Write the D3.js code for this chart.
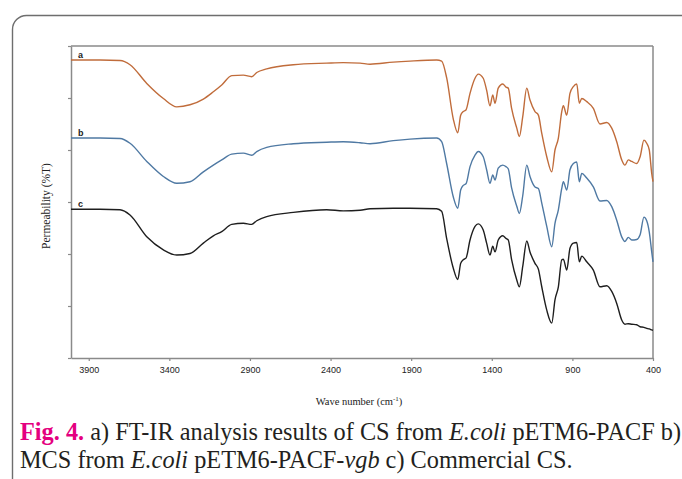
<!DOCTYPE html>
<html>
<head>
<meta charset="utf-8">
<script src="https://cdn.jsdelivr.net/npm/d3@7"></script>
<style>
  html, body { margin: 0; padding: 0; background: #fff; }
  svg { display: block; }
</style>
</head>
<body>
<svg id="chart" width="682" height="479"></svg>
<script>
// ---- data ----
const wavenumbers = [4010,3830,3706,3644,3540,3437,3354,3272,3189,3127,
  3075,3013,2941,2889,2858,2796,2631,2424,2321,2217,
  2155,2011,1907,1742,1711,1680,1639,
  1611,1593,1577,1560,1535,1504,1484,1453,1432,1411,
  1394,1380,1360,1332,1312,1298,1277,1245,1229,1208,
  1183,1163,1132,1111,1090,1059,1028,1008,987,966,
  956,935,915,894,873,857,842,811,770,729,
  687,656,625,594,574,553,532,501,480,456,
  439,423,408,400];

const seriesA = [5.73,5.73,5.72,5.64,5.28,4.99,4.83,4.87,4.98,5.12,
  5.25,5.43,5.44,5.41,5.49,5.56,5.64,5.67,5.68,5.67,
  5.65,5.69,5.71,5.73,5.71,5.39,4.60,
  4.33,4.67,4.74,4.77,5.09,5.38,5.46,5.38,5.15,4.85,
  5.06,4.90,5.19,5.27,5.21,5.19,4.80,4.42,4.26,4.64,
  5.19,4.96,4.74,4.67,4.32,3.87,3.58,4.00,4.23,4.74,
  4.85,4.67,5.09,5.22,5.27,4.90,4.99,4.93,4.80,4.50,
  4.53,4.42,4.16,3.81,3.71,3.81,3.78,3.74,3.87,4.19,
  4.13,4.00,3.55,3.39];

const seriesB = [4.23,4.23,4.22,4.13,3.78,3.49,3.36,3.39,3.58,3.71,
  3.81,3.92,3.94,3.90,3.97,4.05,4.12,4.15,4.16,4.14,
  4.12,4.18,4.21,4.23,4.16,3.74,3.10,
  2.88,3.23,3.32,3.35,3.68,3.90,3.97,3.87,3.62,3.36,
  3.52,3.42,3.65,3.71,3.68,3.64,3.27,2.92,2.78,3.12,
  3.71,3.49,3.29,3.26,2.98,2.53,2.14,2.59,2.85,3.26,
  3.39,3.23,3.62,3.74,3.77,3.39,3.55,3.46,3.29,3.02,
  3.03,2.91,2.65,2.33,2.24,2.32,2.27,2.28,2.37,2.71,
  2.64,2.42,2.04,1.85];

const seriesC = [2.86,2.86,2.85,2.75,2.33,2.08,1.98,2.01,2.21,2.35,
  2.43,2.57,2.59,2.57,2.64,2.72,2.80,2.85,2.83,2.84,
  2.87,2.88,2.88,2.87,2.82,2.30,1.73,
  1.51,1.82,1.89,1.92,2.27,2.53,2.58,2.46,2.21,1.98,
  2.15,2.04,2.27,2.35,2.30,2.27,1.89,1.50,1.37,1.76,
  2.25,2.04,1.82,1.71,1.37,0.92,0.67,1.12,1.37,1.89,
  1.90,1.69,2.11,2.21,2.22,1.85,1.96,1.85,1.69,1.37,
  1.39,1.28,1.05,0.73,0.65,0.66,0.65,0.64,0.60,0.59,
  0.57,0.56,0.54,0.53];

const seriesNames = ["a", "b", "c"];
const seriesColors = ["#c06c3b", "#4f79a3", "#1e1e1e"];
const xTickValues = [3900, 3400, 2900, 2400, 1900, 1400, 900, 400];
const yTickValues = [0, 1, 2, 3, 4, 5, 6];
const xTitle = "Wave number (cm";
const yTitle = "Permeability (%T)";

// ---- layout ----
const svg = d3.select("#chart");
const plot = { left: 71, right: 653, top: 46, bottom: 358 };

const x = d3.scaleLinear().domain([4010, 400]).range([plot.left, plot.right]);
const y = d3.scaleLinear().domain([0, 6]).range([plot.bottom, plot.top]);

// outer rounded border of the figure box
svg.append("rect")
  .attr("x", 12.5).attr("y", 15.5)
  .attr("width", 720).attr("height", 477)
  .attr("rx", 14).attr("ry", 14)
  .attr("fill", "none").attr("stroke", "#6e6e6e").attr("stroke-width", 1.4);

// frame (top and right lines)
const frameColor = "#8a8a8a";
svg.append("line").attr("x1", plot.left).attr("x2", plot.right)
  .attr("y1", plot.top).attr("y2", plot.top)
  .attr("stroke", frameColor).attr("stroke-width", 1.5);
svg.append("line").attr("x1", plot.right).attr("x2", plot.right)
  .attr("y1", plot.top).attr("y2", plot.bottom)
  .attr("stroke", frameColor).attr("stroke-width", 1.5);

// bottom axis
const gx = svg.append("g")
  .attr("transform", `translate(0,${plot.bottom})`)
  .call(d3.axisBottom(x).tickValues(xTickValues).tickFormat(d3.format("d"))
    .tickSize(3).tickSizeOuter(0).tickPadding(6));
gx.select(".domain").attr("stroke", frameColor).attr("stroke-width", 1.5);
gx.selectAll(".tick line").attr("stroke", frameColor).attr("stroke-width", 1.2);
gx.selectAll(".tick text")
  .attr("font-family", "Liberation Sans, Arial, sans-serif")
  .attr("font-size", 9).attr("fill", "#222");

// left axis (ticks only, no labels)
const gy = svg.append("g")
  .attr("transform", `translate(${plot.left},0)`)
  .call(d3.axisLeft(y).tickValues(yTickValues).tickFormat("")
    .tickSize(3).tickSizeOuter(0));
gy.select(".domain").attr("stroke", frameColor).attr("stroke-width", 1.5);
gy.selectAll(".tick line").attr("stroke", frameColor).attr("stroke-width", 1.2);

// axis titles
const xt = svg.append("text")
  .attr("x", (plot.left + plot.right) / 2 - 3).attr("y", 405)
  .attr("text-anchor", "middle")
  .attr("font-family", "Liberation Serif, Times New Roman, serif")
  .attr("font-size", 10.5).attr("fill", "#222");
xt.append("tspan").text(xTitle);
xt.append("tspan").attr("dy", -4).attr("font-size", 7).text("-1");
xt.append("tspan").attr("dy", 4).text(")");

svg.append("text")
  .attr("transform", `translate(50,${(plot.top + plot.bottom) / 2 + 4}) rotate(-90)`)
  .attr("text-anchor", "middle")
  .attr("font-family", "Liberation Serif, Times New Roman, serif")
  .attr("font-size", 11.5).attr("fill", "#222")
  .text(yTitle);

// spectra
const allSeries = [seriesA, seriesB, seriesC];
const line = d3.line()
  .x((d, i) => x(wavenumbers[i]))
  .y(d => y(d))
  .curve(d3.curveMonotoneX);

allSeries.forEach((vals, k) => {
  svg.append("path")
    .datum(vals)
    .attr("d", line)
    .attr("fill", "none")
    .attr("stroke", seriesColors[k])
    .attr("stroke-width", 1.4)
    .attr("stroke-linejoin", "round");
  svg.append("text")
    .attr("x", 78)
    .attr("y", y(vals[0]) - 2)
    .attr("font-family", "Liberation Sans, Arial, sans-serif")
    .attr("font-weight", "bold")
    .attr("font-size", 9).attr("fill", "#222")
    .text(seriesNames[k]);
});

// caption
const cap = svg.append("text")
  .attr("font-family", "Liberation Serif, Times New Roman, serif")
  .attr("font-size", 24.3).attr("fill", "#231f20");
const l1 = cap.append("tspan").attr("x", 20).attr("y", 440);
l1.append("tspan").attr("font-weight", "bold").attr("fill", "#e4007f").text("Fig. 4.");
l1.append("tspan").text(" a) FT-IR analysis results of CS from ");
l1.append("tspan").attr("font-style", "italic").text("E.coli");
l1.append("tspan").text(" pETM6-PACF b)");
const l2 = cap.append("tspan").attr("x", 20).attr("y", 468);
l2.append("tspan").text("MCS from ");
l2.append("tspan").attr("font-style", "italic").text("E.coli");
l2.append("tspan").text(" pETM6-PACF-");
l2.append("tspan").attr("font-style", "italic").text("vgb");
l2.append("tspan").text(" c) Commercial CS.");
</script>
</body>
</html>
